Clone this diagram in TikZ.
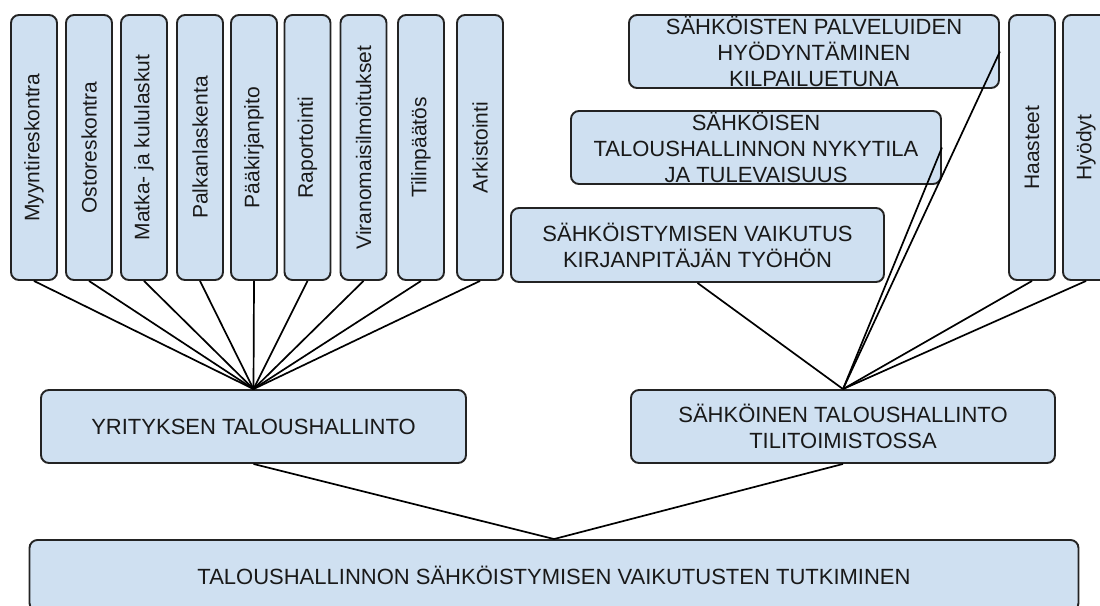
\documentclass[tikz,border=0pt]{standalone}
\usepackage{fontspec}
\setmainfont{Liberation Sans}
\definecolor{boxfill}{RGB}{207,224,241}
\definecolor{boxline}{RGB}{35,35,35}
\definecolor{txt}{RGB}{25,25,25}
\begin{document}
\begin{tikzpicture}[x=1pt,y=-1pt,
  box/.style={draw=boxline, line width=1.9pt, fill=boxfill, rounded corners=8pt,
    inner sep=0pt, align=center, text=txt, font=\fontsize{22}{26}\selectfont},
  vbox/.style={box, rotate=90, minimum width=265pt, minimum height=46pt,
    font=\fontsize{21}{25}\selectfont},
  link/.style={draw=black, line width=1.7pt}]
\clip (0,0) rectangle (1100,605);
\fill[white] (0,0) rectangle (1100,605);
% left cluster
\node[vbox] (m1) at (34,147.5) {Myyntireskontra};
\node[vbox] (m2) at (89,147.5) {Ostoreskontra};
\node[vbox] (m3) at (144,147.5) {Matka- ja kululaskut};
\node[vbox] (m4) at (200,147.5) {Palkanlaskenta};
\node[vbox] (m5) at (254,147.5) {Pääkirjanpito};
\node[vbox] (m6) at (307.5,147.5) {Raportointi};
\node[vbox] (m7) at (363.5,147.5) {Viranomaisilmoitukset};
\node[vbox] (m8) at (421,147.5) {Tilinpäätös};
\node[vbox] (m9) at (480,147.5) {Arkistointi};
% right cluster
\node[box, minimum width=370pt, minimum height=73pt] (p) at (814,51.5)
  {SÄHKÖISTEN PALVELUIDEN\\HYÖDYNTÄMINEN\\KILPAILUETUNA};
\node[box, minimum width=370pt, minimum height=73pt] (n) at (756,147.5)
  {SÄHKÖISEN\\TALOUSHALLINNON NYKYTILA\\JA TULEVAISUUS};
\node[box, minimum width=373pt, minimum height=74pt] (v) at (697.5,245)
  {SÄHKÖISTYMISEN VAIKUTUS\\KIRJANPITÄJÄN TYÖHÖN};
\node[vbox] (ha) at (1032,147.5) {Haasteet};
\node[vbox] (hy) at (1086,147.5) {Hyödyt};
% middle level
\node[box, minimum width=425pt, minimum height=73pt] (yt) at (253.5,426.5)
  {YRITYKSEN TALOUSHALLINTO};
\node[box, minimum width=424pt, minimum height=73pt] (st) at (843,426.5)
  {SÄHKÖINEN TALOUSHALLINTO\\TILITOIMISTOSSA};
% root
\node[box, minimum width=1049pt, minimum height=71pt] (root) at (554,575.5)
  {TALOUSHALLINNON SÄHKÖISTYMISEN VAIKUTUSTEN TUTKIMINEN};
% connectors
\foreach \m in {m1,m2,m3,m4,m5,m6,m7,m8,m9}
  \draw[link] (\m.west) -- (yt.north);
\draw[link] (v.south) -- (st.north);
\draw[link] (n.east) -- (st.north);
\draw[link] (p.east) -- (st.north);
\draw[link] (ha.west) -- (st.north);
\draw[link] (hy.west) -- (st.north);
\draw[link] (yt.south) -- (root.north);
\draw[link] (st.south) -- (root.north);
\end{tikzpicture}
\end{document}
